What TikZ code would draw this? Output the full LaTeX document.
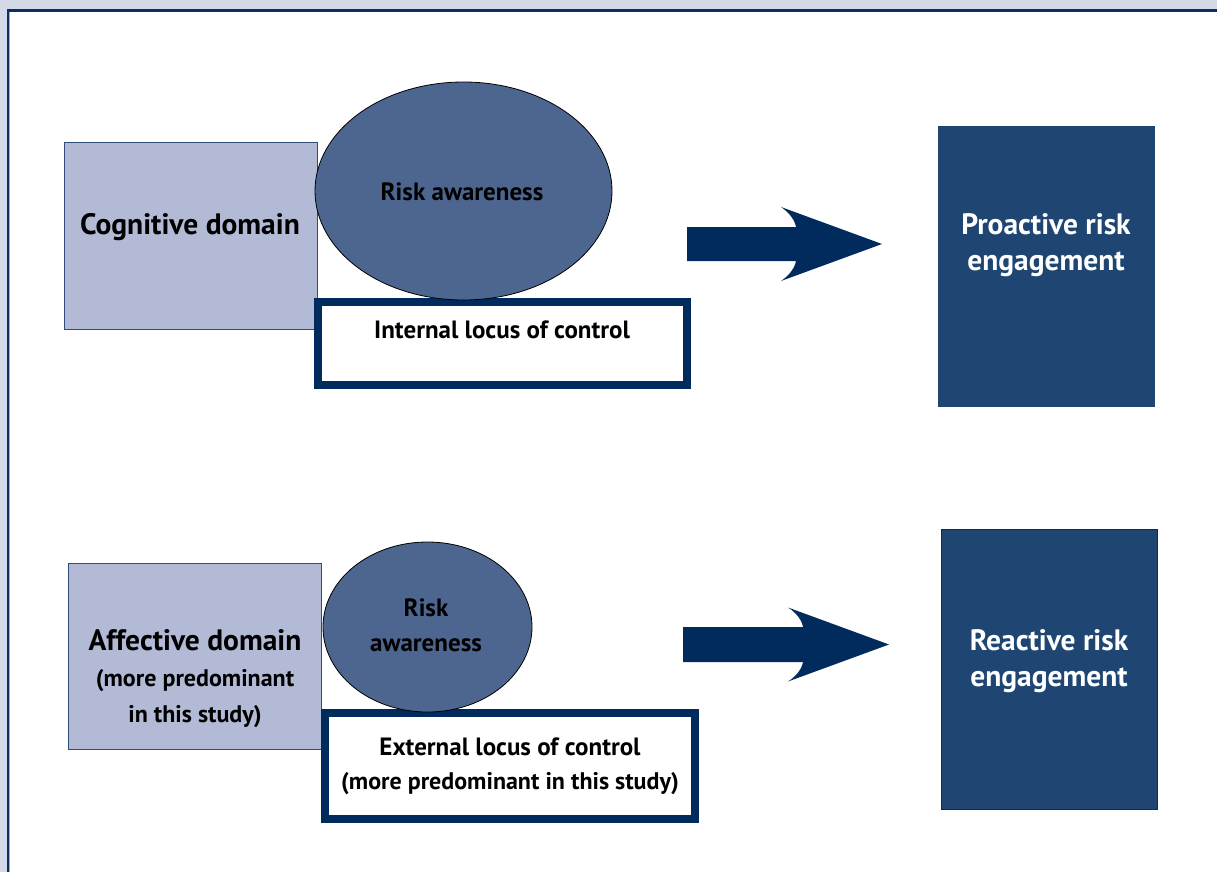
\documentclass[tikz,border=0pt]{standalone}
\usepackage{fontspec}
\setmainfont{PT Sans}
\usetikzlibrary{shapes.geometric}
\definecolor{bgc}{HTML}{D3D9E6}
\definecolor{navy}{HTML}{002B5C}
\definecolor{frameline}{HTML}{0B2F5E}
\definecolor{framelight}{HTML}{9DB0D4}
\definecolor{lightfill}{HTML}{B2BAD6}
\definecolor{lightedge}{HTML}{2F4C7C}
\definecolor{ellfill}{HTML}{4D6690}
\definecolor{darkfill}{HTML}{1F4672}
\begin{document}
\begin{tikzpicture}[x=1pt,y=-1pt,
  domainbox/.style={draw=lightedge, fill=lightfill, line width=0.9pt, inner sep=0pt, outer sep=0pt, anchor=north west},
  locusbox/.style={draw=navy, fill=white, line width=8pt, inner sep=0pt, outer sep=0pt, anchor=north west},
  riskell/.style={ellipse, draw=black, fill=ellfill, line width=0.8pt, inner sep=0pt, outer sep=0pt},
  outcomebox/.style={fill=darkfill, inner sep=0pt, outer sep=0pt, anchor=north west},
  bigarrow/.style={fill=navy},
  headtxt/.style={font=\fontsize{29.5}{34}\selectfont\bfseries, anchor=base, inner sep=0pt},
  midtxt/.style={font=\fontsize{25}{28}\selectfont\bfseries, anchor=base, inner sep=0pt},
  notetxt/.style={font=\fontsize{24}{28}\selectfont\bfseries, anchor=base, inner sep=0pt},
  whitetxt/.style={text=white}]
\useasboundingbox (0,0) rectangle (1217,872);
% frame
\fill[bgc] (0,0) rectangle (1217,872);
\fill[white] (9,11.7) rectangle (1217,872);
\draw[frameline, line width=2.6pt] (7.9,872) -- (7.9,10.4) -- (1217,10.4);
\draw[framelight, line width=1pt] (9.6,872) -- (9.6,11.7);

% top row
\node[domainbox, minimum width=253pt, minimum height=187pt] (cog) at (64,142) {};
\node[locusbox, minimum width=369pt, minimum height=83pt] (intl) at (318,302) {};
\node[riskell, minimum width=297pt, minimum height=218pt] (ell1) at (463.5,191) {};
\node[outcomebox, minimum width=217pt, minimum height=281pt] (pro) at (938,126) {};

\node[headtxt] (cogt) at (190,234) {Cognitive domain};
\node[midtxt] (ell1t) at (462,200) {Risk awareness};
\node[midtxt] (intlt) at (502,338) {Internal locus of control};
\node[headtxt, whitetxt] (prot1) at (1046,234) {Proactive risk};
\node[headtxt, whitetxt] (prot2) at (1046,270) {engagement};

\coordinate (a1) at (687,244);
\fill[bigarrow] (a1) ++(0,-17) -- ++(109,0) .. controls (795,221) and (790,213) .. (781,207)
  -- (882,244) -- (781,281) .. controls (790,275) and (795,267) .. (796,261) -- (687,261) -- cycle;

% bottom row
\node[domainbox, minimum width=253pt, minimum height=186pt] (aff) at (68,563) {};
\node[locusbox, minimum width=369.5pt, minimum height=106.5pt] (ext) at (325,712.5) {};
\node[riskell, minimum width=209pt, minimum height=170pt] (ell2) at (427.5,627) {};
\node[outcomebox, draw=black!85, line width=1pt, minimum width=216.5pt, minimum height=280pt] (rea) at (941,529.5) {};

\node[headtxt] (afft1) at (195,650) {Affective domain};
\node[notetxt] (afft2) at (195,686) {(more predominant};
\node[notetxt] (afft3) at (195,722) {in this study)};
\node[midtxt] (ell2t1) at (426,616) {Risk};
\node[midtxt] (ell2t2) at (426,651) {awareness};
\node[midtxt] (extt1) at (510,755) {External locus of control};
\node[notetxt] (extt2) at (510,789) {(more predominant in this study)};
\node[headtxt, whitetxt] (reat1) at (1049,650) {Reactive risk};
\node[headtxt, whitetxt] (reat2) at (1049,686) {engagement};

\coordinate (a2) at (683,644.5);
\fill[bigarrow] (a2) ++(0,-17.5) -- ++(120,0) .. controls (802,621) and (797,613) .. (788,607.5)
  -- (889,644.5) -- (788,681.5) .. controls (797,676) and (802,668) .. (803,662) -- (683,662) -- cycle;
\end{tikzpicture}
\end{document}
